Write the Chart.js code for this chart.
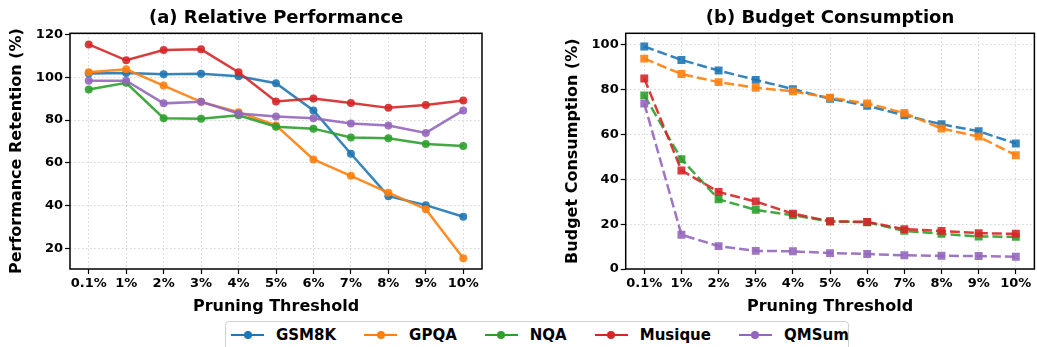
<!DOCTYPE html>
<html>
<head>
<meta charset="utf-8">
<script src="https://cdn.jsdelivr.net/npm/chart.js@4.4.1/dist/chart.umd.min.js"></script>
<style>
body { margin: 0; background: #fff; width: 1037px; height: 347px; overflow: hidden; position: relative; font-family: "DejaVu Sans", sans-serif; }
#perf { position: absolute; left: 0; top: 0; }
#budget { position: absolute; left: 540px; top: 0; }
#legend {
    position: absolute; left: 225px; top: 321px; width: 624px; height: 40px;
    border: 1px solid #d0d0d0; border-radius: 4px; box-sizing: border-box;
    padding: 2px 0 0 5px; display: flex; align-items: flex-start;
}
.item { display: flex; align-items: center; height: 22px; margin-right: 28px; }
.swatch { position: relative; width: 33px; height: 2.5px; margin-right: 12px; }
.swatch span { position: absolute; left: 12.5px; top: -2.75px; width: 8px; height: 8px; border-radius: 50%; }
.label { font-weight: bold; font-size: 15px; color: #000; }
</style>
</head>
<body>
<canvas id="perf" width="500" height="316"></canvas>
<canvas id="budget" width="500" height="316"></canvas>
<div id="legend"></div>
<script>
const thresholds = ['0.1%', '1%', '2%', '3%', '4%', '5%', '6%', '7%', '8%', '9%', '10%'];
const seriesNames = ['GSM8K', 'GPQA', 'NQA', 'Musique', 'QMSum'];
const seriesColors = ['#1f77b4', '#ff7f0e', '#2ca02c', '#d62728', '#9467bd'];

// (a) relative performance, %
const perfGSM8K   = [101.7, 102.0, 101.4, 101.6, 100.5, 97.2, 84.5, 64.3, 44.5, 40.3, 34.9];
const perfGPQA    = [102.3, 103.7, 96.1, 88.5, 83.7, 77.5, 61.6, 54.0, 46.1, 38.4, 15.5];
const perfNQA     = [94.3, 97.4, 80.9, 80.6, 82.2, 76.9, 76.0, 71.9, 71.5, 68.8, 67.9];
const perfMusique = [115.3, 107.9, 112.7, 113.0, 102.3, 88.7, 90.1, 88.0, 85.7, 87.0, 89.1];
const perfQMSum   = [98.3, 98.4, 87.8, 88.5, 83.1, 81.7, 80.8, 78.4, 77.5, 74.0, 84.5];

// (b) budget consumption, %
const budgetGSM8K   = [99.3, 93.3, 88.6, 84.4, 80.3, 76.0, 72.9, 68.6, 64.6, 61.5, 56.0];
const budgetGPQA    = [93.9, 87.0, 83.4, 80.9, 79.3, 76.4, 73.9, 69.6, 62.7, 59.1, 50.8];
const budgetNQA     = [77.5, 49.0, 31.1, 26.4, 24.0, 21.2, 20.9, 17.0, 15.7, 14.5, 14.4];
const budgetMusique = [85.0, 44.0, 34.4, 30.1, 24.7, 21.3, 21.0, 17.8, 17.0, 16.0, 15.7];
const budgetQMSum   = [73.9, 15.3, 10.2, 8.1, 7.9, 7.1, 6.7, 6.1, 5.9, 5.8, 5.5];

const perfTicks = [20, 40, 60, 80, 100, 120];
const budgetTicks = [0, 20, 40, 60, 80, 100];

const tickFont = { family: 'DejaVu Sans', size: 13, weight: 'bold' };
const labelFont = { family: 'DejaVu Sans', size: 16, weight: 'bold' };

function alpha(hex, a) {
    const n = parseInt(hex.slice(1), 16);
    return 'rgba(' + (n >> 16) + ',' + ((n >> 8) & 255) + ',' + (n & 255) + ',' + a + ')';
}

// frame + title drawn over the plot area
const framePlugin = {
    id: 'frame',
    afterDraw(chart, args, opts) {
        const { ctx, chartArea: a } = chart;
        ctx.save();
        ctx.strokeStyle = '#000';
        ctx.lineWidth = 1.5;
        ctx.strokeRect(a.left, a.top, a.right - a.left, a.bottom - a.top);
        ctx.fillStyle = '#000';
        ctx.font = 'bold 18px "DejaVu Sans"';
        ctx.textAlign = 'center';
        ctx.textBaseline = 'alphabetic';
        ctx.fillText(opts.text, (a.left + a.right) / 2, 23);
        ctx.restore();
    }
};

function makeChart(id, seriesData, opts) {
    const datasets = seriesData.map((vals, i) => ({
        label: seriesNames[i],
        data: vals,
        borderColor: alpha(seriesColors[i], 0.9),
        backgroundColor: alpha(seriesColors[i], 0.9),
        borderWidth: 2.5,
        borderDash: opts.dash,
        pointStyle: opts.pointStyle,
        pointRadius: opts.pointRadius,
        pointBorderWidth: 0,
        pointBackgroundColor: alpha(seriesColors[i], 0.9),
        tension: 0,
        order: seriesData.length - i
    }));

    return new Chart(document.getElementById(id), {
        type: 'line',
        data: { labels: thresholds, datasets: datasets },
        options: {
            responsive: false,
            animation: false,
            layout: { padding: { top: 33.3, right: opts.padRight, left: 0, bottom: 0 } },
            plugins: {
                legend: { display: false },
                tooltip: { enabled: false },
                frame: { text: opts.title }
            },
            scales: {
                x: {
                    offset: true,
                    grid: { color: 'rgba(0,0,0,0.17)', lineWidth: 1, tickColor: '#000', tickLength: 5, tickWidth: 1.2 },
                    border: { display: false, dash: [1.5, 2.5] },
                    ticks: { font: tickFont, color: '#000', padding: 2, maxRotation: 0, autoSkip: false },
                    title: { display: true, text: 'Pruning Threshold', font: labelFont, color: '#000', padding: { top: 0, bottom: 0 } },
                    afterFit: s => { s.height = 316 - 269; }
                },
                y: {
                    min: opts.yMin,
                    max: opts.yMax,
                    afterBuildTicks: s => { s.ticks = opts.yTicks.map(v => ({ value: v })); },
                    grid: { color: 'rgba(0,0,0,0.17)', lineWidth: 1, tickColor: '#000', tickLength: 5, tickWidth: 1.2 },
                    border: { display: false, dash: [1.5, 2.5] },
                    ticks: { font: tickFont, color: '#000', padding: 2 },
                    title: { display: true, text: opts.yTitle, font: labelFont, color: '#000', padding: { top: opts.yTitlePad, bottom: 0 } },
                    afterFit: s => { s.width = opts.yWidth; }
                }
            }
        },
        plugins: [framePlugin]
    });
}

makeChart('perf', [perfGSM8K, perfGPQA, perfNQA, perfMusique, perfQMSum], {
    title: '(a) Relative Performance',
    yTitle: 'Performance Retention (%)',
    yMin: 10.5, yMax: 120.5, yTicks: perfTicks,
    yWidth: 70, yTitlePad: 7.4, padRight: 18,
    dash: [], pointStyle: 'circle', pointRadius: 4
});

makeChart('budget', [budgetGSM8K, budgetGPQA, budgetNQA, budgetMusique, budgetQMSum], {
    title: '(b) Budget Consumption',
    yTitle: 'Budget Consumption (%)',
    yMin: 0, yMax: 105.2, yTicks: budgetTicks,
    yWidth: 85.7, yTitlePad: 23.4, padRight: 2.2,
    dash: [10, 4], pointStyle: 'rect', pointRadius: 5.6
});

// shared legend
const legend = document.getElementById('legend');
seriesNames.forEach((name, i) => {
    const item = document.createElement('div');
    item.className = 'item';
    const sw = document.createElement('div');
    sw.className = 'swatch';
    sw.style.background = seriesColors[i];
    const dot = document.createElement('span');
    dot.style.background = seriesColors[i];
    sw.appendChild(dot);
    const lab = document.createElement('div');
    lab.className = 'label';
    lab.textContent = name;
    item.appendChild(sw);
    item.appendChild(lab);
    legend.appendChild(item);
});
</script>
</body>
</html>
